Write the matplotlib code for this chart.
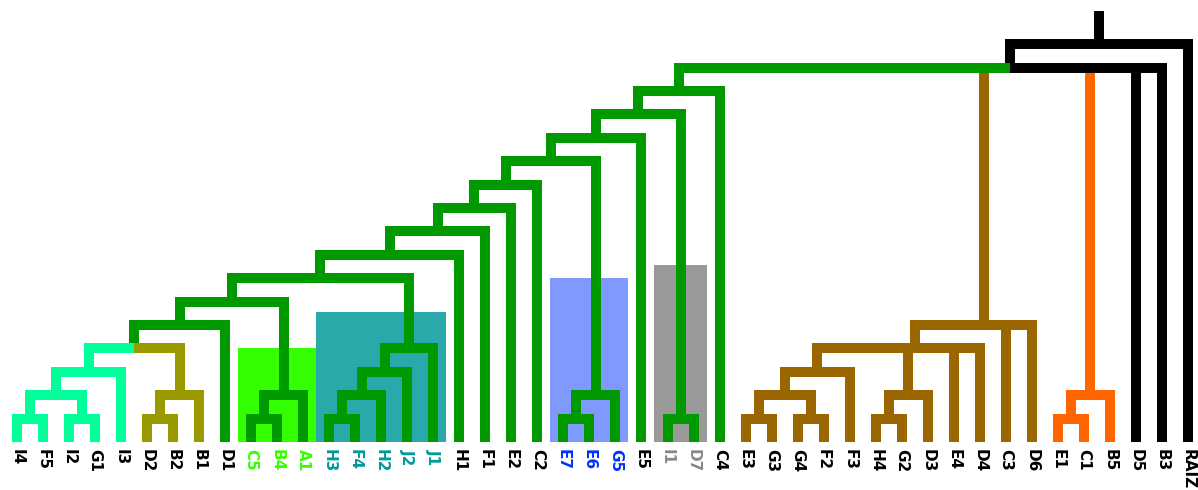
import numpy as np
import matplotlib.pyplot as plt
from matplotlib.patches import Rectangle

# leaf order along the bottom
leaves = ["I4", "F5", "I2", "G1", "I3", "D2", "B2", "B1", "D1", "C5", "B4", "A1",
          "H3", "F4", "H2", "J2", "J1", "H1", "F1", "E2", "C2", "E7", "E6", "G5",
          "E5", "I1", "D7", "C4", "E3", "G3", "G4", "F2", "F3", "H4", "G2", "D3",
          "E4", "D4", "C3", "D6", "E1", "C1", "B5", "D5", "B3", "RAIZ"]

# merges: (node, children, level)
merges = [
    ("m0", ["I4", "F5"], 1),
    ("m1", ["I2", "G1"], 1),
    ("m2", ["m0", "m1"], 2),
    ("m3", ["m2", "I3"], 3),
    ("m4", ["D2", "B2"], 1),
    ("m5", ["m4", "B1"], 2),
    ("m6", ["m3", "m5"], 4),
    ("m7", ["m6", "D1"], 5),
    ("m8", ["C5", "B4"], 1),
    ("m9", ["m8", "A1"], 2),
    ("m10", ["m7", "m9"], 6),
    ("m11", ["H3", "F4"], 1),
    ("m12", ["m11", "H2"], 2),
    ("m13", ["m12", "J2"], 3),
    ("m14", ["m13", "J1"], 4),
    ("m15", ["m10", "m14"], 7),
    ("m16", ["m15", "H1"], 8),
    ("m17", ["m16", "F1"], 9),
    ("m18", ["m17", "E2"], 10),
    ("m19", ["m18", "C2"], 11),
    ("m20", ["E7", "E6"], 1),
    ("m21", ["m20", "G5"], 2),
    ("m22", ["m19", "m21"], 12),
    ("m23", ["m22", "E5"], 13),
    ("m24", ["I1", "D7"], 1),
    ("m25", ["m23", "m24"], 14),
    ("m26", ["m25", "C4"], 15),
    ("m27", ["E3", "G3"], 1),
    ("m28", ["G4", "F2"], 1),
    ("m29", ["m27", "m28"], 2),
    ("m30", ["m29", "F3"], 3),
    ("m31", ["H4", "G2"], 1),
    ("m32", ["m31", "D3"], 2),
    ("m33", ["m30", "m32", "E4", "D4"], 4),
    ("m34", ["m33", "C3", "D6"], 5),
    ("m35", ["E1", "C1"], 1),
    ("m36", ["m35", "B5"], 2),
    ("m37", ["m26", "m34", "m36", "D5", "B3"], 16),
    ("m38", ["m37", "RAIZ"], 17),
]
root_top = 18.4

# branch colours
cyan_nodes = ["I4", "F5", "I2", "G1", "I3", "m0", "m1", "m2", "m3"]
olive_nodes = ["D2", "B2", "B1", "m4", "m5"]
brown_nodes = ["E3", "G3", "G4", "F2", "F3", "H4", "G2", "D3", "E4", "D4", "C3", "D6",
               "m27", "m28", "m29", "m30", "m31", "m32", "m33", "m34"]
orange_nodes = ["E1", "C1", "B5", "m35", "m36"]
black_nodes = ["D5", "B3", "RAIZ", "m37", "m38"]

# highlighted groups: (first leaf, last leaf, top level, colour, label colour)
groups = [
    ("C5", "A1", 4.0, "#33ff00", "#33ff00"),
    ("H3", "J1", 5.56, "#2aa9aa", "#009999"),
    ("E7", "G5", 7.0, "#7f99ff", "#0033ff"),
    ("I1", "D7", 7.56, "#999999", "#888888"),
]

GREEN = "#009900"
col = {}
for n in cyan_nodes:
    col[n] = "#00ff99"
for n in olive_nodes:
    col[n] = "#999900"
for n in brown_nodes:
    col[n] = "#996600"
for n in orange_nodes:
    col[n] = "#ff6600"
for n in black_nodes:
    col[n] = "black"

W, H = 1198, 490
fig = plt.figure(figsize=(W / 100, H / 100), dpi=100)
ax = fig.add_axes([0, 0, 1, 1])
step_x, step_y = 26.02, 23.4
x0, y0 = 17, 442
ax.set_xlim(-x0 / step_x, (W - x0) / step_x)
ax.set_ylim((y0 - H) / step_y, y0 / step_y)
ax.axis("off")

lw = 7.2
half = 5 / step_x

xpos = {name: float(i) for i, name in enumerate(leaves)}
level = {name: 0.0 for name in leaves}

for name, kids, h in merges:
    xpos[name] = np.mean([xpos[k] for k in kids])
    level[name] = h

parent = {}
for name, kids, h in merges:
    for k in kids:
        parent[k] = name

# boxes behind the tree
for a, b, top, c, _ in groups:
    ia, ib = leaves.index(a), leaves.index(b)
    ax.add_patch(Rectangle((ia - 0.5, 0), ib - ia + 1, top, color=c, zorder=1, lw=0))

# verticals
for name in list(xpos):
    c = col.get(name, GREEN)
    top = level[parent[name]] if name in parent else root_top
    ax.plot([xpos[name], xpos[name]], [level[name], top], color=c, lw=lw,
            solid_capstyle="butt", zorder=2)

# horizontals, each half takes the colour of its outer child
for name, kids, h in merges:
    xs = [xpos[k] for k in kids]
    left = kids[int(np.argmin(xs))]
    right = kids[int(np.argmax(xs))]
    xm = xpos[name]
    ax.plot([min(xs) - half, xm], [h, h], color=col.get(left, GREEN), lw=lw,
            solid_capstyle="butt", zorder=3)
    ax.plot([xm, max(xs) + half], [h, h], color=col.get(right, GREEN), lw=lw,
            solid_capstyle="butt", zorder=3)

label_col = {}
for a, b, top, c, lc in groups:
    for n in leaves[leaves.index(a):leaves.index(b) + 1]:
        label_col[n] = lc

for i, name in enumerate(leaves):
    ax.text(i, -0.3, name, rotation=-90, ha="center", va="top", fontsize=11,
            fontweight="bold", color=label_col.get(name, "black"))

fig.savefig("out.png", dpi=100)
